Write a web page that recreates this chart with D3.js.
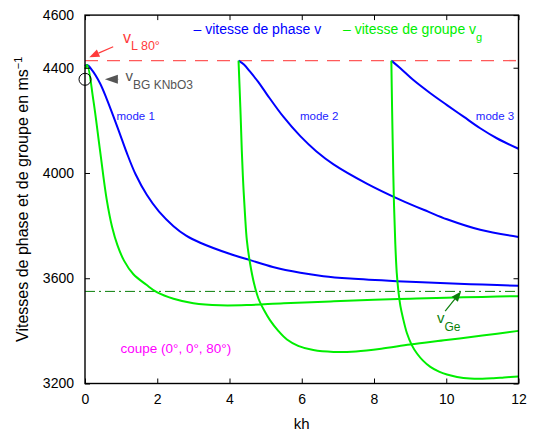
<!DOCTYPE html>
<html>
<head>
<meta charset="utf-8">
<script src="https://cdn.jsdelivr.net/npm/d3@7"></script>
<style>
  html, body { margin: 0; padding: 0; background: #fff; }
  svg { display: block; font-family: "Liberation Sans", Arial, Helvetica, sans-serif; }
</style>
</head>
<body>
<svg id="chart" width="534" height="432"></svg>
<script>
// Dispersion of Lamb-type modes: phase and group velocities versus kh
const xTicks = [0, 2, 4, 6, 8, 10, 12];
const yTicks = [3200, 3600, 4000, 4400, 4600];

const vL80 = 4427;      // longitudinal velocity, 80°
const vGe = 3550;       // asymptotic group velocity
const vBG = 4356;       // bulk velocity, KNbO3

// phase velocity (kh, v)
const phaseMode1 = [[0, 4406], [0.06, 4410], [0.2, 4390], [0.415, 4341], [0.6, 4282], [0.784, 4216], [0.97, 4147],
  [1.155, 4077], [1.4, 3995], [1.71, 3917], [2.05, 3853], [2.45, 3798], [2.8, 3762], [3.19, 3735], [4.0, 3693],
  [4.57, 3669], [5.2, 3643], [5.96, 3621], [6.6, 3608], [7.34, 3599], [8.63, 3589], [10, 3581], [11, 3576], [12, 3571]];
const phaseMode2 = [[4.25, 4427], [4.4, 4412], [4.57, 4385], [4.8, 4345], [5.03, 4300], [5.49, 4214], [5.96, 4140],
  [6.4, 4083], [6.88, 4033], [7.8, 3960], [8.73, 3898], [9.5, 3853], [10.02, 3824], [10.94, 3784], [12, 3757]];
const phaseMode3 = [[8.48, 4427], [8.73, 4398], [9.09, 4353], [9.56, 4303], [10.02, 4258], [10.48, 4214],
  [10.94, 4170], [11.4, 4132], [12, 4092]];

// group velocity (kh, vg)
const groupMode1 = [[0, 4395], [0.06, 4410], [0.23, 4278], [0.415, 4087], [0.6, 3900], [0.75, 3795], [0.9, 3725],
  [1.08, 3667], [1.34, 3615], [1.7, 3575], [2.0, 3546], [2.45, 3522], [3.0, 3505], [3.74, 3497], [4.5, 3498],
  [5.5, 3505], [6.8, 3512], [8, 3518], [9, 3522], [10, 3526], [11, 3529], [12, 3532]];
const groupMode2 = [[4.25, 4427], [4.3, 4250], [4.34, 4087], [4.38, 3960], [4.43, 3840], [4.48, 3745], [4.57, 3656],
  [4.68, 3580], [4.8, 3523], [4.95, 3480], [5.12, 3441], [5.35, 3400], [5.59, 3367], [5.9, 3343], [6.32, 3327],
  [6.88, 3320], [7.5, 3322], [8.2, 3332], [9.0, 3348], [10, 3365], [11, 3382], [12, 3400]];
const groupMode3 = [[8.48, 4427], [8.5, 4250], [8.52, 4100], [8.55, 3900], [8.59, 3730], [8.63, 3620], [8.68, 3545],
  [8.73, 3495], [8.8, 3450], [8.91, 3392], [9.05, 3345], [9.19, 3314], [9.35, 3288], [9.56, 3263], [9.8, 3245],
  [10.02, 3234], [10.3, 3225], [10.66, 3219], [11.0, 3218], [11.31, 3220], [11.6, 3223], [12, 3227]];

const modeLabels = ["mode 1", "mode 2", "mode 3"];

const svg = d3.select("#chart");
const m = { left: 85, top: 15.1, right: 518.5, bottom: 383.5 };

const x = d3.scaleLinear().domain([0, 12]).range([m.left, m.right]);
const y = d3.scaleLinear().domain([3200, 4600]).range([m.bottom, m.top]);

const BLUE = "#0000ff", GREEN = "#00ee00", DKGREEN = "#0a7f0a", RED = "#ff3b3b";

// reference levels
svg.append("line")
  .attr("x1", x(0)).attr("x2", x(12)).attr("y1", y(vL80)).attr("y2", y(vL80))
  .attr("stroke", "#ff5a5a").attr("stroke-width", 1.4).attr("stroke-dasharray", "13,9");
svg.append("line")
  .attr("x1", x(0)).attr("x2", x(12)).attr("y1", y(vGe)).attr("y2", y(vGe))
  .attr("stroke", DKGREEN).attr("stroke-width", 1).attr("stroke-dasharray", "10,4,2,4");

const line = d3.line().x(d => x(d[0])).y(d => y(d[1])).curve(d3.curveCatmullRom.alpha(0.5));

[phaseMode1, phaseMode2, phaseMode3].forEach(s => {
  svg.append("path").attr("d", line(s)).attr("fill", "none")
    .attr("stroke", BLUE).attr("stroke-width", 2);
});
[groupMode1, groupMode2, groupMode3].forEach(s => {
  svg.append("path").attr("d", line(s)).attr("fill", "none")
    .attr("stroke", GREEN).attr("stroke-width", 2);
});

// axes box with inward ticks on all sides
const tickLen = 5;
const axisG = svg.append("g");
axisG.append("rect")
  .attr("x", m.left).attr("y", m.top).attr("width", m.right - m.left).attr("height", m.bottom - m.top)
  .attr("fill", "none").attr("stroke", "#000").attr("stroke-width", 1.4);

const xAxisB = d3.axisBottom(x).tickValues(xTicks).tickSizeInner(-tickLen).tickSizeOuter(0).tickPadding(11).tickFormat(d3.format("d"));
const xAxisT = d3.axisTop(x).tickValues(xTicks).tickSizeInner(-tickLen).tickSizeOuter(0).tickFormat("");
const yAxisL = d3.axisLeft(y).tickValues(yTicks).tickSizeInner(-tickLen).tickSizeOuter(0).tickPadding(11).tickFormat(d3.format("d"));
const yAxisR = d3.axisRight(y).tickValues(yTicks).tickSizeInner(-tickLen).tickSizeOuter(0).tickFormat("");

function styleAxis(g) {
  g.select(".domain").remove();
  g.selectAll(".tick line").attr("stroke", "#000").attr("stroke-width", 1);
  g.selectAll(".tick text").attr("fill", "#000").style("font-size", "14px")
    .style("font-family", "'Liberation Sans', Arial, sans-serif");
}
axisG.append("g").attr("transform", `translate(0,${m.bottom})`).call(xAxisB).call(styleAxis);
axisG.append("g").attr("transform", `translate(0,${m.top})`).call(xAxisT).call(styleAxis);
axisG.append("g").attr("transform", `translate(${m.left},0)`).call(yAxisL).call(styleAxis);
axisG.append("g").attr("transform", `translate(${m.right},0)`).call(yAxisR).call(styleAxis);

// axis titles
svg.append("text").attr("x", (m.left + m.right) / 2).attr("y", 429)
  .attr("text-anchor", "middle").style("font-size", "15px").text("kh");

const yTitle = svg.append("text")
  .attr("transform", `translate(28,${(m.top + m.bottom) / 2}) rotate(-90)`)
  .attr("text-anchor", "middle").style("font-size", "16px");
yTitle.append("tspan").text("Vitesses de phase et de groupe en ms");
yTitle.append("tspan").attr("dy", -6).style("font-size", "11px").text("−1");

// legend
svg.append("text").attr("x", 193.5).attr("y", 34).attr("fill", BLUE).style("font-size", "14px")
  .text("– vitesse de phase v");
const leg2 = svg.append("text").attr("x", 343).attr("y", 34).attr("fill", GREEN).style("font-size", "14px");
leg2.append("tspan").text("– vitesse de groupe v");
leg2.append("tspan").attr("dy", 7).style("font-size", "11px").text("g");

// mode labels
const modePos = [[0.87, 4200], [5.95, 4200], [10.82, 4200]];
modeLabels.forEach((t, i) => {
  svg.append("text").attr("x", x(modePos[i][0])).attr("y", y(modePos[i][1]))
    .attr("fill", "#2323ff").style("font-size", "11.5px").text(t);
});

// cut label
svg.append("text").attr("x", 120.5).attr("y", 352.5).attr("fill", "#ff00ff").style("font-size", "13.5px")
  .text("coupe (0°, 0°, 80°)");

// arrow helper (filled head at the tip)
function arrow(x1, y1, x2, y2, color, headLen, headW, width) {
  const a = Math.atan2(y2 - y1, x2 - x1);
  const bx = x2 - headLen * Math.cos(a), by = y2 - headLen * Math.sin(a);
  svg.append("line").attr("x1", x1).attr("y1", y1).attr("x2", bx).attr("y2", by)
    .attr("stroke", color).attr("stroke-width", width);
  const px = -Math.sin(a) * headW / 2, py = Math.cos(a) * headW / 2;
  svg.append("path").attr("d", `M${x2},${y2}L${bx + px},${by + py}L${bx - px},${by - py}Z`).attr("fill", color);
}

// v_L 80°
arrow(x(0.78), y(4480), x(0.12), y(4440), RED, 10, 8, 1.2);
const tL = svg.append("text").attr("x", 123).attr("y", 43).attr("fill", RED).style("font-size", "16px");
tL.append("tspan").text("v");
tL.append("tspan").attr("dy", 6.5).style("font-size", "12.5px").text("L 80°");

// v_BG KNbO3
svg.append("circle").attr("cx", x(0)).attr("cy", y(vBG)).attr("r", 6)
  .attr("fill", "none").attr("stroke", "#000").attr("stroke-width", 1);
arrow(x(0.92), y(vBG), x(0.55), y(vBG), "#555", 13, 9, 1);
const tBG = svg.append("text").attr("x", 125.5).attr("y", 80.7).attr("fill", "#555").style("font-size", "15px");
tBG.append("tspan").text("v");
tBG.append("tspan").attr("dy", 8).style("font-size", "12px").text("BG KNbO3");

// v_Ge
arrow(x(9.97), y(3475), x(10.41), y(vGe), DKGREEN, 10, 8, 1.2);
const tGe = svg.append("text").attr("x", 437).attr("y", 322.7).attr("fill", DKGREEN).style("font-size", "15px");
tGe.append("tspan").text("v");
tGe.append("tspan").attr("dy", 8).style("font-size", "12px").text("Ge");
</script>
</body>
</html>
